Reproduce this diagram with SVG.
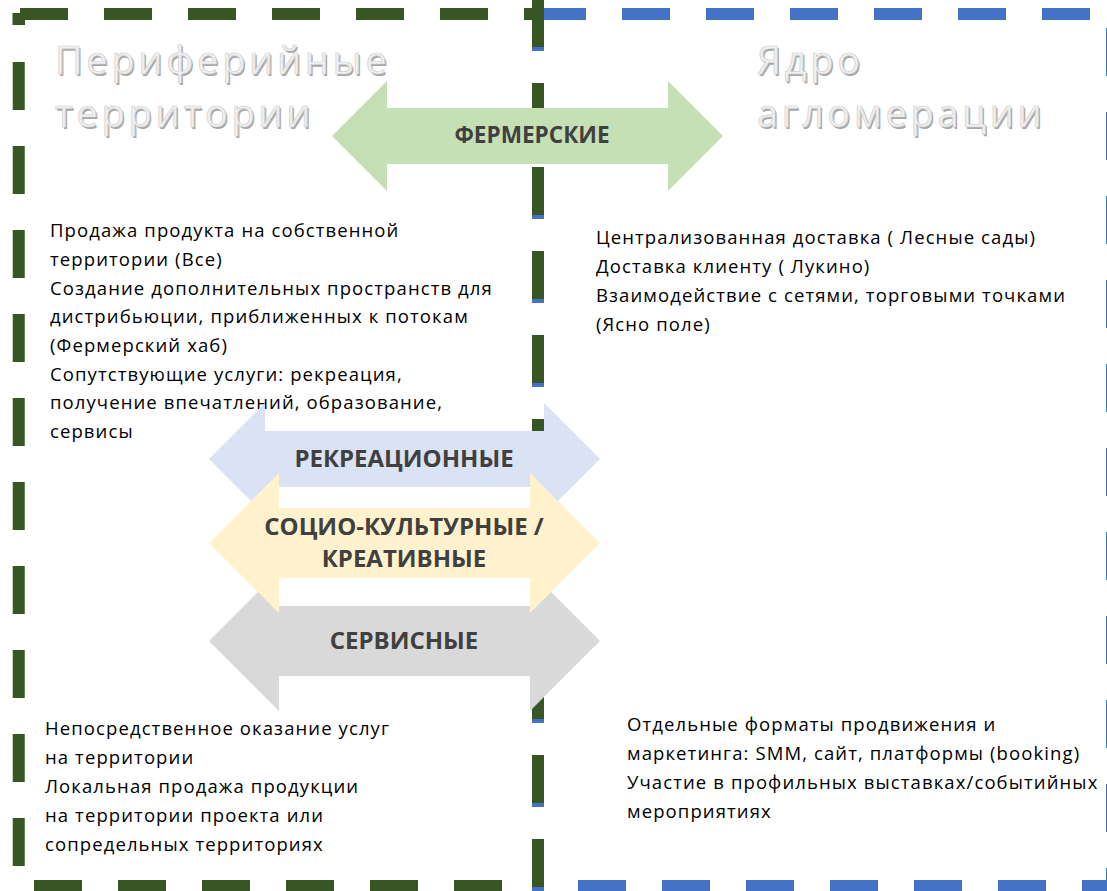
<svg xmlns="http://www.w3.org/2000/svg" width="1107" height="891" viewBox="0 0 1107 891">
<style>
.bl{fill:none;stroke:#4472c4;stroke-width:12;stroke-dasharray:48 36}
.gr{fill:none;stroke:#375623;stroke-width:12;stroke-dasharray:48 36}
.lbl{font-family:"Open Sans","Noto Sans",sans-serif;font-weight:bold;font-size:24px;fill:#404040;text-anchor:middle}
.body{font-family:"Open Sans","Noto Sans",sans-serif;font-size:18.5px;letter-spacing:1.1px;fill:#000}
.ttl{font-family:"Open Sans","Noto Sans",sans-serif;font-size:38px;letter-spacing:3.7px}
.ttl .sh{fill:#a8a8a8}
.ttl .fg{fill:#f0f0f0;stroke:#d0d0d0;stroke-width:0.7}
</style>
<rect width="1107" height="891" fill="#fff"/>
<g id="regions">
  <g id="core-border">
    <line class="bl" x1="538" y1="14" x2="1107" y2="14"/>
    <line class="bl" x1="1112" y1="28" x2="1112" y2="891"/>
    <line class="bl" x1="578" y1="886" x2="1107" y2="886"/>
    <line class="bl" x1="538" y1="3" x2="538" y2="891"/>
  </g>
  <g id="periphery-border">
    <line class="gr" x1="20" y1="14" x2="544" y2="14"/>
    <rect x="12.5" y="13" width="12.5" height="12" fill="#375623"/>
    <line class="gr" x1="18.75" y1="62" x2="18.75" y2="866"/>
    <line class="gr" x1="34" y1="886" x2="502" y2="886"/>
    <line class="gr" x1="538" y1="-1" x2="538" y2="891"/>
  </g>
</g>
<g id="title-periphery" class="ttl">
  <g class="sh" transform="translate(1.5,1.5)">
    <text x="55" y="74">Периферийные</text>
    <text x="55" y="127">территории</text>
  </g>
  <g class="fg">
    <text x="55" y="74">Периферийные</text>
    <text x="55" y="127">территории</text>
  </g>
</g>
<g id="title-core" class="ttl">
  <g class="sh" transform="translate(1.5,1.5)">
    <text x="757" y="74">Ядро</text>
    <text x="757" y="127">агломерации</text>
  </g>
  <g class="fg">
    <text x="757" y="74">Ядро</text>
    <text x="757" y="127">агломерации</text>
  </g>
</g>
<g id="text-periphery-top" class="body">
  <text x="50" y="237">Продажа продукта на собственной</text>
  <text x="50" y="266">территории (Все)</text>
  <text x="50" y="295">Создание дополнительных пространств для</text>
  <text x="50" y="323">дистрибьюции, приближенных к потокам</text>
  <text x="50" y="352">(Фермерский хаб)</text>
  <text x="50" y="381">Сопутствующие услуги: рекреация,</text>
  <text x="50" y="409">получение впечатлений, образование,</text>
  <text x="50" y="438">сервисы</text>
</g>
<g id="text-core-top" class="body">
  <text x="596" y="244">Централизованная доставка ( Лесные сады)</text>
  <text x="596" y="273">Доставка клиенту ( Лукино)</text>
  <text x="596" y="302">Взаимодействие с сетями, торговыми точками</text>
  <text x="596" y="331">(Ясно поле)</text>
</g>
<g id="text-periphery-bottom" class="body">
  <text x="45" y="735">Непосредственное оказание услуг</text>
  <text x="45" y="764">на территории</text>
  <text x="45" y="793">Локальная продажа продукции</text>
  <text x="45" y="822">на территории проекта или</text>
  <text x="45" y="851">сопредельных территориях</text>
</g>
<g id="text-core-bottom" class="body">
  <text x="627" y="731">Отдельные форматы продвижения и</text>
  <text x="627" y="760">маркетинга: SMM, сайт, платформы (booking)</text>
  <text x="627" y="789">Участие в профильных выставках/событийных</text>
  <text x="627" y="818">мероприятиях</text>
</g>
<g id="connectors">
  <g id="arrow-farm">
    <path d="M332,136 L387,81 L387,108 L668,108 L668,81 L723,136 L668,191 L668,164 L387,164 L387,191 Z" fill="#c5e0b4"/>
    <text class="lbl" x="532" y="143" style="font-size:22.6px">ФЕРМЕРСКИЕ</text>
  </g>
  <g id="arrow-recreation">
    <path d="M209,459 L265,403 L265,431 L544,431 L544,403 L600,459 L544,515 L544,487 L265,487 L265,515 Z" fill="#dae3f3"/>
    <text class="lbl" x="404" y="467">РЕКРЕАЦИОННЫЕ</text>
  </g>
  <g id="arrow-service">
    <path d="M209,641 L279,571 L279,606 L530,606 L530,571 L600,641 L530,711 L530,676 L279,676 L279,711 Z" fill="#d9d9d9"/>
    <text class="lbl" x="404" y="649">СЕРВИСНЫЕ</text>
  </g>
  <g id="arrow-socio">
    <path d="M209,543 L279,473 L279,508 L530,508 L530,473 L600,543 L530,613 L530,578 L279,578 L279,613 Z" fill="#fff2cc"/>
    <text class="lbl" x="404" y="535">СОЦИО-КУЛЬТУРНЫЕ /</text>
    <text class="lbl" x="404" y="567">КРЕАТИВНЫЕ</text>
  </g>
</g>
</svg>
